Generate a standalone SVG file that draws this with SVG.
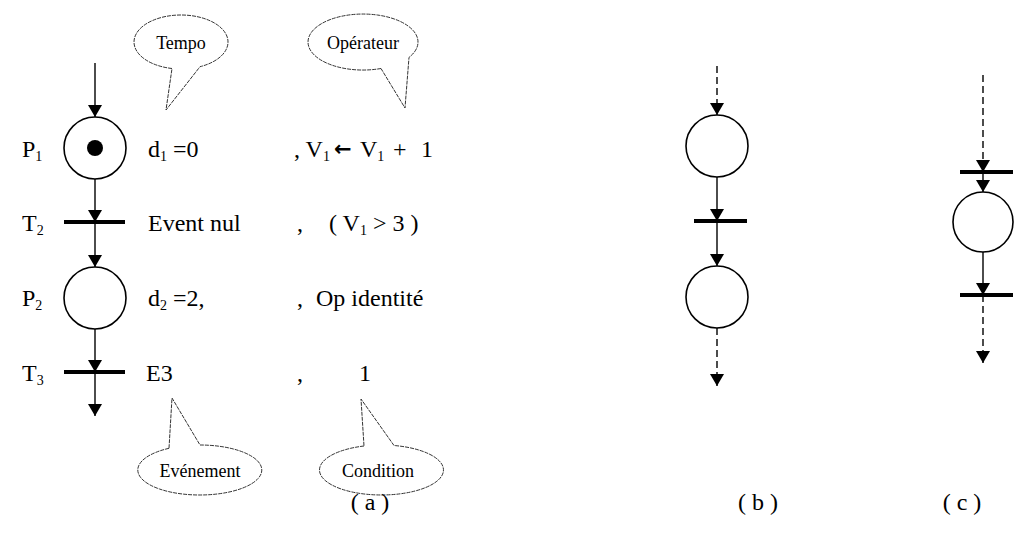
<svg xmlns="http://www.w3.org/2000/svg" width="1016" height="533" viewBox="0 0 1016 533">
<defs>
<marker id="ah" viewBox="0 0 12 14" refX="12" refY="7" markerWidth="12" markerHeight="14" markerUnits="userSpaceOnUse" orient="auto">
<path d="M0,0 L12,7 L0,14 Z" fill="#000"/>
</marker>
</defs>
<style>
text{font-family:"Liberation Serif","Times New Roman",serif;font-size:24px;fill:#000}
.sub{font-size:14px}
.place{fill:#fff;stroke:#000;stroke-width:1.6}
.bar{stroke:#000;stroke-width:4}
.arc{stroke:#000;stroke-width:1.4;fill:none;marker-end:url(#ah)}
.dash{stroke-dasharray:7,4}
.bubble{fill:#fff;stroke:#333;stroke-width:1;stroke-dasharray:4,1}
.bt{font-size:18px}
.cap{font-size:24px}
.imp{font-family:"DejaVu Sans",sans-serif;font-weight:bold;font-size:21px}
</style>
<rect width="1016" height="533" fill="#fff"/>

<g id="connectors">
<line class="arc" x1="95" y1="63" x2="95" y2="117"/>
<line class="arc" x1="95" y1="179" x2="95" y2="222"/>
<line class="arc" x1="95" y1="222" x2="95" y2="267"/>
<line class="arc" x1="95" y1="329" x2="95" y2="372"/>
<line class="arc" x1="95" y1="372" x2="95" y2="416"/>

<line class="arc dash" x1="717" y1="66" x2="717" y2="115"/>
<line class="arc" x1="717" y1="177" x2="717" y2="221"/>
<line class="arc" x1="717" y1="221" x2="717" y2="266"/>
<line class="arc dash" x1="717" y1="328" x2="717" y2="386"/>

<line class="arc dash" x1="983" y1="75" x2="983" y2="172"/>
<line class="arc" x1="983" y1="172" x2="983" y2="192"/>
<line class="arc" x1="983" y1="252" x2="983" y2="295"/>
<line class="arc dash" x1="983" y1="295" x2="983" y2="363"/>
</g>

<g id="P1"><circle class="place" cx="95" cy="148" r="31"/><circle cx="95" cy="148" r="8" fill="#000"/><text x="22" y="157">P<tspan class="sub" dy="4">1</tspan></text></g>
<g id="T2"><line class="bar" x1="64" y1="222" x2="125" y2="222"/><text x="22" y="231">T<tspan class="sub" dy="4">2</tspan></text></g>
<g id="P2"><circle class="place" cx="95" cy="298" r="31"/><text x="22" y="306">P<tspan class="sub" dy="4">2</tspan></text></g>
<g id="T3"><line class="bar" x1="64" y1="372" x2="125" y2="372"/><text x="22" y="381">T<tspan class="sub" dy="4">3</tspan></text></g>

<g id="labels-a">
<text x="148" y="157">d<tspan class="sub" dy="4">1</tspan><tspan dy="-4"> =0</tspan></text>
<text x="294" y="157">, V<tspan class="sub" dy="4">1</tspan></text>
<text class="imp" x="334" y="156">←</text>
<text x="360" y="157">V<tspan class="sub" dy="4">1</tspan></text>
<text x="393" y="157">+</text>
<text x="421" y="157">1</text>
<text x="148" y="231">Event nul</text>
<text x="297" y="231">,</text>
<text x="329" y="231">( V<tspan class="sub" dy="4">1</tspan><tspan dy="-4"> &gt; 3 )</tspan></text>
<text x="148" y="306">d<tspan class="sub" dy="4">2</tspan><tspan dy="-4"> =2,</tspan></text>
<text x="297" y="306">,</text>
<text x="316" y="306">Op identité</text>
<text x="146" y="381">E3</text>
<text x="297" y="381">,</text>
<text x="359" y="381">1</text>
</g>

<g id="bubble-tempo">
<path class="bubble" d="M172,68.5 A47,27 0 1 1 200,66.7 L166,110 Z"/>
<text class="bt" x="181" y="49" text-anchor="middle">Tempo</text>
</g>
<g id="bubble-operateur">
<path class="bubble" d="M381,68.5 A55,28 0 1 1 409,57.4 L405,108 Z"/>
<text class="bt" x="363" y="49" text-anchor="middle">Opérateur</text>
</g>
<g id="bubble-evenement">
<path class="bubble" d="M169,448.3 A62,25 0 1 0 200,445 L172,398 Z"/>
<text class="bt" x="200" y="477" text-anchor="middle">Evénement</text>
</g>
<g id="bubble-condition">
<path class="bubble" d="M364,446 A62,25 0 1 0 394,445.5 L361,399 Z"/>
<text class="bt" x="378" y="477" text-anchor="middle">Condition</text>
</g>

<g id="b-net">
<circle class="place" cx="717" cy="146" r="31"/>
<line class="bar" x1="694" y1="221" x2="747" y2="221"/>
<circle class="place" cx="717" cy="297" r="31"/>
</g>
<g id="c-net">
<line class="bar" x1="960" y1="172" x2="1013" y2="172"/>
<circle class="place" cx="983" cy="222" r="30"/>
<line class="bar" x1="960" y1="295" x2="1013" y2="295"/>
</g>

<g id="captions">
<text class="cap" x="370" y="510" text-anchor="middle">( a )</text>
<text class="cap" x="758" y="510" text-anchor="middle">( b )</text>
<text class="cap" x="962" y="510" text-anchor="middle">( c )</text>
</g>
</svg>
